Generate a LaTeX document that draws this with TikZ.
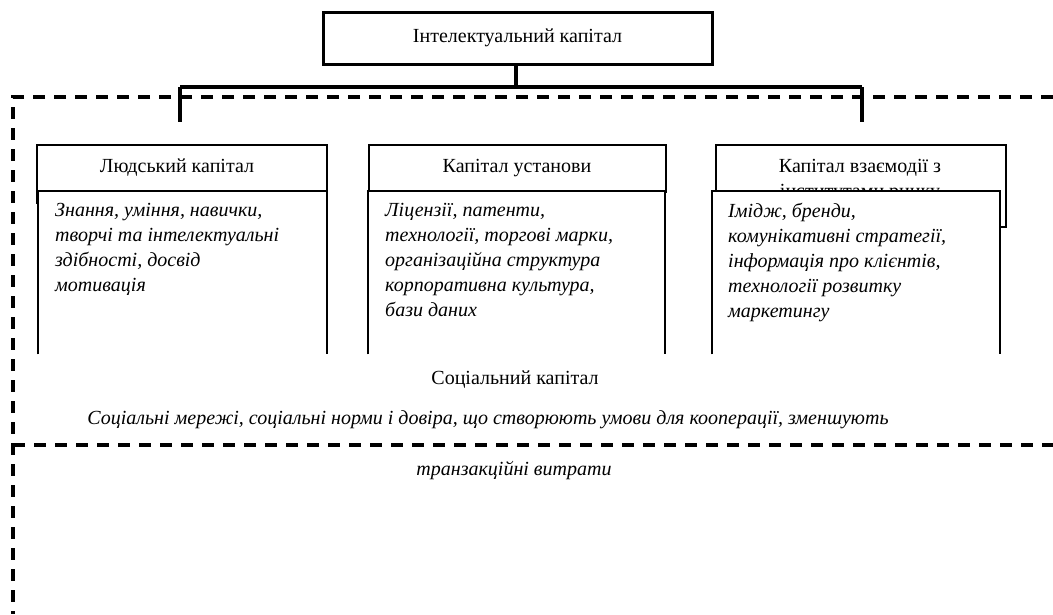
\documentclass[tikz,border=0pt]{standalone}
\usepackage{fontspec}
\setmainfont{Liberation Serif}
\tikzset{
  boxline/.style={draw=black, line width=2pt},
  topbox/.style={draw=black, line width=3pt, minimum width=389pt, minimum height=52pt, inner sep=0pt, font=\fontsize{20}{25}\selectfont},
  hdr/.style={draw=black, line width=2pt, fill=white, inner sep=0pt, anchor=north west},
  cbox/.style={fill=white, draw=none, inner sep=0pt, anchor=north west},
  htxt/.style={font=\fontsize{20}{25}\selectfont, inner sep=0pt, align=center},
  ctxt/.style={font=\fontsize{20}{25}\selectfont\itshape, inner sep=0pt, align=left, anchor=north west},
  dashbox/.style={line width=4pt, dash pattern=on 12pt off 9pt},
  conn/.style={line width=3.5pt},
}
\begin{document}
\begin{tikzpicture}[x=1pt,y=-1pt]
\useasboundingbox (0,0) rectangle (1053,614);
% dashed social capital frame
\draw[dashbox] (1053,97) -- (13,97) -- (13,614);
\draw[dashbox] (13,445) -- (1053,445);
% top node
\node[topbox] (top) at (517.5,38) {\raisebox{-2pt}{Інтелектуальний капітал}};
% connectors
\coordinate (bm) at (516,87);
\coordinate (bl) at (180,87);
\coordinate (br) at (862,87);
\coordinate (dl) at (180,122);
\coordinate (dr) at (862,122);
\draw[conn] (top.south -| bm) -- (bm);
\draw[conn, line width=4pt] (bl) -- (br);
\draw[conn] (bl) -- (dl);
\draw[conn] (br) -- (dr);
% box 1
\node[hdr, minimum width=290pt, minimum height=58pt] (h1) at (36,144) {};
\node[htxt] (h1t) at (177,168) {Людський капітал};
\node[cbox, minimum width=289pt, minimum height=163pt] (c1) at (38,191) {};
\draw[boxline] (c1.south west) -- (c1.north west) -- (c1.north east) -- (c1.south east);
\node[ctxt] (c1t) at (55,203) {Знання, уміння, навички,\\творчі та інтелектуальні\\здібності, досвід\\мотивація};
% box 2
\node[hdr, minimum width=297pt, minimum height=47pt] (h2) at (368,144) {};
\node[htxt] (h2t) at (517,168) {Капітал установи};
\node[cbox, minimum width=297pt, minimum height=163pt] (c2) at (368,191) {};
\draw[boxline] (c2.south west) -- (c2.north west) -- (c2.north east) -- (c2.south east);
\node[ctxt] (c2t) at (385,203) {Ліцензії, патенти,\\технології, торгові марки,\\організаційна структура\\корпоративна культура,\\бази даних};
% box 3
\node[hdr, minimum width=290pt, minimum height=82pt] (h3) at (715,144) {};
\node[htxt] (h3t) at (860,181) {Капітал взаємодії з\\інститутами ринку};
\node[cbox, minimum width=288pt, minimum height=163pt] (c3) at (712,191) {};
\draw[boxline] (c3.south west) -- (c3.north west) -- (c3.north east) -- (c3.south east);
\node[ctxt] (c3t) at (728,203) {Імідж, бренди,\\комунікативні стратегії,\\інформація про клієнтів,\\технології розвитку\\маркетингу};
% social capital texts
\node[htxt] (soc) at (515,380) {Соціальний капітал};
\node[htxt, font=\fontsize{20}{25}\selectfont\itshape] (soct) at (488,420) {Соціальні мережі, соціальні норми і довіра, що створюють умови для кооперації, зменшують};
\node[htxt, font=\fontsize{20}{25}\selectfont\itshape] (soct2) at (514,471) {транзакційні витрати};
\end{tikzpicture}
\end{document}
